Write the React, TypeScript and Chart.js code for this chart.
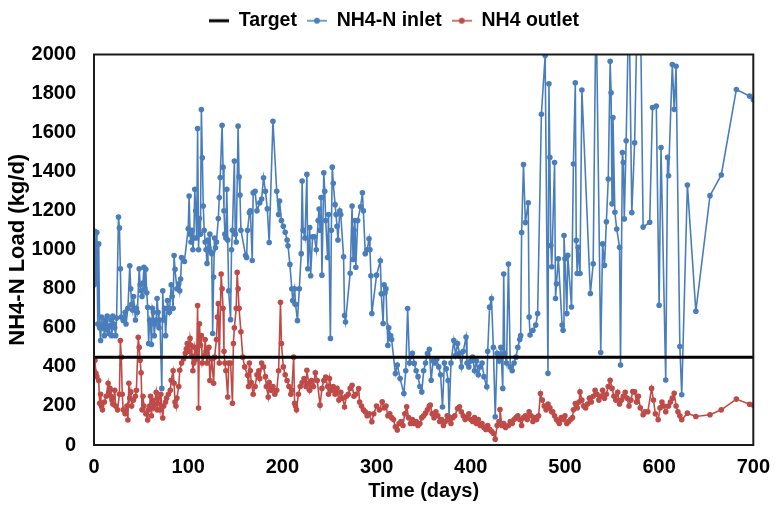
import React, { useEffect, useRef } from "react";
import { Chart, registerables } from "chart.js";

Chart.register(...registerables);

const seriesNames = ["Target", "NH4-N inlet", "NH4 outlet"];
const xTickValues = [0, 100, 200, 300, 400, 500, 600, 700];
const yTickValues = [0, 200, 400, 600, 800, 1000, 1200, 1400, 1600, 1800, 2000];

const targetPoints: [number, number][] = [[0, 450], [700, 450]];

const inletPoints: [number, number][] = [
  [0, 820], [1, 1095], [2, 830], [3, 1088], [4, 620], [5, 1030], [6, 600], [7, 535], [8, 655], [9, 600],
  [10, 620], [11, 560], [12, 640], [13, 590], [14, 660], [15, 600], [16, 570], [17, 610], [18, 640], [19, 560],
  [20, 660], [21, 620], [22, 600], [23, 560], [24, 650], [26, 1168], [27, 1112], [28, 903], [29, 655], [31, 638],
  [33, 680], [34, 620], [36, 700], [38, 918], [39, 800], [40, 720], [41, 690], [42, 760], [44, 640], [45, 700],
  [46, 680], [48, 903], [49, 820], [50, 790], [51, 760], [52, 830], [53, 910], [54, 800], [55, 900], [56, 780],
  [57, 705], [58, 520], [59, 640], [60, 620], [61, 515], [62, 700], [63, 680], [64, 560], [65, 620], [66, 640],
  [67, 750], [68, 680], [69, 600], [70, 640], [72, 290], [73, 790], [74, 640], [75, 700], [76, 560], [78, 740],
  [79, 700], [80, 680], [82, 820], [83, 760], [84, 700], [85, 970], [86, 900], [88, 800], [90, 826], [91, 790],
  [92, 850], [93, 960], [96, 940], [100, 1107], [101, 1275], [102, 1080], [103, 1040], [104, 1100], [105, 1000], [106, 1060],
  [107, 1310], [108, 1200], [109, 1060], [110, 1621], [111, 1000], [112, 1160], [113, 1080], [114, 1718], [115, 1471], [116, 1224],
  [117, 1100], [118, 1040], [119, 1000], [120, 930], [121, 1050], [122, 1010], [123, 1080], [124, 990], [125, 980], [126, 571],
  [127, 860], [128, 1060], [129, 1010], [130, 1040], [132, 1160], [133, 1267], [134, 1370], [136, 1638], [137, 1423], [138, 1200],
  [139, 1080], [140, 1060], [141, 1310], [142, 1050], [143, 790], [145, 642], [146, 1000], [147, 1100], [149, 1454], [150, 1080],
  [151, 1040], [153, 1633], [154, 1373], [155, 1280], [156, 1100], [161, 970], [162, 960], [163, 1100], [165, 1190], [166, 1199],
  [168, 945], [169, 1292], [171, 1300], [173, 1200], [176, 1241], [178, 1260], [180, 1369], [182, 1300], [184, 1210], [186, 1037],
  [190, 1658], [194, 1300], [196, 1180], [197, 1250], [199, 1150], [201, 1120], [203, 1090], [205, 1050], [206, 1020], [208, 925],
  [210, 800], [211, 740], [213, 800], [214, 720], [216, 637], [218, 800], [220, 980], [221, 1352], [222, 1100], [224, 1060],
  [226, 1386], [227, 903], [229, 1114], [230, 867], [232, 1066], [234, 1066], [236, 1000], [238, 1150], [239, 1209], [240, 1100],
  [241, 1267], [242, 870], [244, 1394], [245, 1300], [246, 1150], [248, 960], [249, 1180], [251, 546], [252, 1100], [253, 1423],
  [254, 1340], [256, 1231], [257, 1180], [258, 1120], [259, 1050], [261, 1200], [262, 1180], [265, 964], [266, 663], [267, 630],
  [272, 880], [274, 1224], [275, 950], [276, 1100], [277, 1150], [278, 910], [280, 1150], [283, 1220], [285, 1292], [286, 1200],
  [288, 980], [290, 1000], [292, 1056], [293, 1000], [294, 867], [295, 673], [300, 870], [304, 944], [305, 775], [307, 622],
  [308, 820], [309, 780], [310, 800], [312, 510], [313, 600], [315, 560], [316, 540], [320, 366], [322, 410], [325, 340],
  [329, 264], [331, 380], [333, 699], [335, 420], [338, 470], [340, 418], [342, 380], [344, 350], [346, 300], [348, 272],
  [350, 380], [352, 420], [354, 469], [356, 490], [358, 332], [360, 430], [362, 420], [364, 440], [366, 400], [368, 360],
  [370, 195], [372, 420], [374, 390], [376, 330], [377, 144], [379, 420], [382, 535], [384, 460], [386, 520], [388, 470],
  [390, 400], [392, 480], [395, 553], [396, 420], [398, 400], [400, 430], [402, 450], [404, 380], [406, 430], [408, 360],
  [410, 400], [412, 420], [414, 350], [417, 298], [418, 480], [420, 706], [422, 750], [424, 500], [426, 145], [428, 470],
  [430, 430], [432, 500], [434, 290], [435, 876], [436, 470], [438, 420], [440, 927], [442, 400], [444, 380], [446, 420],
  [448, 450], [450, 500], [452, 540], [453, 560], [454, 1088], [456, 1437], [458, 1139], [461, 1241], [462, 655], [463, 563],
  [466, 588], [469, 614], [471, 673], [475, 1694], [479, 1995], [482, 367], [483, 1850], [484, 1473], [485, 1022], [486, 913],
  [489, 1447], [490, 750], [491, 826], [493, 954], [497, 614], [498, 588], [499, 1073], [500, 954], [502, 673], [503, 971],
  [507, 707], [509, 1439], [511, 1855], [512, 1048], [513, 878], [514, 1013], [516, 878], [518, 1818], [527, 776], [530, 928],
  [533, 2300], [538, 474], [540, 1030], [542, 920], [544, 1143], [546, 1362], [548, 1965], [549, 1804], [550, 1235], [551, 1677],
  [553, 1192], [555, 1106], [558, 1013], [559, 410], [561, 1498], [562, 1447], [563, 1158], [565, 1558], [568, 2300], [571, 1190],
  [574, 1548], [577, 2300], [580, 2300], [583, 1116], [590, 1141], [593, 1728], [597, 1736], [600, 716], [602, 1524], [607, 333],
  [609, 1473], [610, 1379], [614, 1949], [616, 1719], [618, 1940], [622, 504], [624, 257], [630, 1332], [639, 685], [654, 1277],
  [666, 1383], [682, 1821], [696, 1787], [700, 1770],
];

const outletPoints: [number, number][] = [
  [0, 380], [1, 434], [2, 367], [3, 350], [5, 330], [6, 214], [7, 260], [8, 197], [9, 180], [11, 220],
  [13, 250], [15, 316], [16, 272], [17, 290], [18, 250], [19, 230], [20, 210], [22, 280], [23, 200], [25, 180],
  [27, 260], [28, 535], [29, 450], [30, 260], [31, 180], [33, 160], [35, 200], [36, 128], [37, 316], [38, 240],
  [39, 272], [40, 200], [42, 230], [44, 250], [45, 280], [47, 552], [48, 500], [49, 434], [50, 370], [51, 180],
  [52, 250], [53, 200], [55, 160], [57, 128], [58, 180], [59, 200], [60, 250], [61, 150], [62, 230], [63, 190],
  [64, 210], [66, 270], [67, 180], [68, 240], [70, 180], [71, 260], [73, 138], [74, 200], [76, 220], [77, 240],
  [79, 260], [81, 280], [82, 332], [84, 380], [85, 316], [86, 220], [87, 200], [88, 240], [90, 300], [91, 383],
  [93, 420], [95, 440], [97, 470], [98, 493], [99, 520], [101, 480], [102, 546], [103, 510], [104, 456], [105, 380],
  [106, 420], [107, 500], [109, 440], [110, 714], [111, 189], [112, 621], [113, 510], [114, 560], [115, 420], [117, 460],
  [118, 540], [119, 480], [120, 420], [122, 500], [123, 330], [125, 440], [127, 316], [128, 450], [130, 540], [131, 655],
  [132, 724], [133, 420], [135, 876], [136, 800], [137, 700], [138, 480], [139, 420], [140, 380], [142, 246], [143, 420],
  [145, 420], [147, 214], [148, 520], [149, 600], [151, 700], [152, 884], [153, 800], [154, 700], [156, 580], [158, 450],
  [160, 400], [163, 357], [164, 300], [165, 420], [166, 380], [167, 320], [169, 260], [171, 300], [173, 360], [175, 380],
  [176, 340], [178, 420], [180, 400], [182, 350], [183, 300], [185, 246], [186, 320], [188, 280], [190, 300], [192, 260],
  [194, 280], [196, 380], [198, 731], [199, 520], [201, 400], [203, 360], [205, 330], [207, 300], [209, 260], [210, 280],
  [212, 450], [213, 214], [214, 200], [215, 180], [217, 260], [219, 300], [221, 320], [223, 340], [225, 300], [226, 383],
  [228, 315], [229, 280], [231, 330], [233, 300], [235, 370], [237, 330], [240, 204], [242, 290], [244, 330], [246, 348],
  [248, 300], [249, 260], [250, 340], [252, 280], [254, 300], [256, 260], [258, 290], [260, 230], [262, 270], [264, 240],
  [266, 195], [268, 250], [270, 260], [272, 290], [274, 306], [276, 250], [278, 260], [281, 289], [282, 220], [284, 200],
  [286, 180], [288, 170], [290, 150], [292, 160], [295, 119], [297, 160], [300, 200], [303, 180], [306, 221], [308, 190],
  [310, 200], [312, 150], [314, 160], [316, 140], [318, 130], [320, 93], [322, 77], [324, 110], [326, 120], [328, 100],
  [330, 160], [332, 196], [334, 140], [336, 110], [338, 130], [340, 110], [342, 120], [344, 100], [346, 110], [348, 140],
  [350, 150], [352, 163], [354, 180], [356, 199], [357, 204], [359, 160], [361, 140], [363, 170], [365, 150], [367, 120],
  [369, 130], [371, 100], [373, 120], [375, 150], [377, 130], [379, 110], [381, 140], [383, 150], [386, 187], [388, 196],
  [390, 170], [392, 150], [394, 130], [396, 140], [398, 160], [400, 130], [402, 120], [404, 140], [406, 110], [408, 130],
  [410, 100], [412, 110], [414, 90], [416, 80], [418, 100], [420, 80], [422, 70], [424, 60], [426, 30], [428, 100],
  [430, 120], [431, 182], [433, 100], [435, 110], [437, 90], [440, 100], [442, 120], [444, 110], [446, 130], [448, 140],
  [450, 150], [452, 130], [454, 100], [456, 140], [458, 150], [460, 130], [462, 170], [464, 150], [466, 120], [468, 140],
  [470, 130], [472, 150], [474, 264], [476, 230], [478, 200], [480, 180], [482, 210], [484, 190], [486, 170], [487, 170],
  [489, 150], [491, 130], [493, 120], [494, 110], [496, 140], [498, 130], [500, 150], [502, 110], [504, 120], [506, 130],
  [508, 140], [509, 180], [511, 212], [513, 190], [515, 220], [516, 272], [518, 230], [520, 200], [522, 190], [524, 210],
  [526, 240], [528, 220], [530, 250], [532, 280], [534, 260], [536, 230], [538, 250], [540, 280], [542, 240], [544, 260],
  [546, 300], [548, 332], [550, 290], [552, 250], [554, 230], [556, 270], [558, 210], [560, 230], [562, 250], [564, 270],
  [566, 240], [568, 200], [570, 230], [572, 274], [574, 272], [576, 220], [578, 250], [580, 190], [583, 155], [585, 170],
  [588, 170], [592, 290], [594, 230], [596, 160], [599, 129], [601, 190], [603, 220], [605, 200], [607, 170], [610, 200],
  [612, 220], [614, 240], [616, 265], [618, 200], [620, 170], [622, 150], [624, 129], [630, 163], [639, 146], [654, 155],
  [666, 180], [682, 235], [696, 209], [700, 205],
];

const BLUE = "#4A7EBB";
const RED = "#BE4B48";
const FONT = "'Liberation Sans', Arial, sans-serif";

function legendMarker(color: string, withDot: boolean, lw: number): HTMLCanvasElement {
  const c = document.createElement("canvas");
  c.width = 20;
  c.height = 10;
  const g = c.getContext("2d")!;
  g.strokeStyle = color;
  g.lineWidth = lw;
  g.beginPath();
  g.moveTo(0, 5);
  g.lineTo(20, 5);
  g.stroke();
  if (withDot) {
    g.fillStyle = color;
    g.beginPath();
    g.arc(10, 5, 3, 0, Math.PI * 2);
    g.fill();
  }
  return c;
}

const boxPlugin = {
  id: "plotBox",
  afterDatasetsDraw(chart: any) {
    const { ctx, chartArea } = chart;
    const { left, top, right, bottom } = chartArea;
    ctx.save();
    ctx.strokeStyle = "#1a1a1a";
    ctx.lineWidth = 2;
    ctx.strokeRect(left, top, right - left, bottom - top);
    ctx.restore();
  },
};

export default function App() {
  const ref = useRef<HTMLCanvasElement | null>(null);
  useEffect(() => {
    if (!ref.current) return;
    const markers = [
      legendMarker("#000", false, 3),
      legendMarker(BLUE, true, 1.5),
      legendMarker(RED, true, 1.5),
    ];
    const toXY = (pts: [number, number][]) => pts.map(([x, y]) => ({ x, y }));
    const chart = new Chart(ref.current, {
      type: "line",
      data: {
        datasets: [
          {
            label: seriesNames[0],
            data: toXY(targetPoints),
            borderColor: "#000",
            backgroundColor: "#000",
            borderWidth: 3,
            pointRadius: 0,
            order: 0,
          },
          {
            label: seriesNames[1],
            data: toXY(inletPoints),
            borderColor: BLUE,
            backgroundColor: BLUE,
            borderWidth: 1.6,
            pointRadius: 2.8,
            pointBorderWidth: 0,
            order: 2,
          },
          {
            label: seriesNames[2],
            data: toXY(outletPoints),
            borderColor: RED,
            backgroundColor: RED,
            borderWidth: 1.6,
            pointRadius: 2.8,
            pointBorderWidth: 0,
            order: 1,
          },
        ],
      },
      options: {
        animation: false,
        responsive: false,
        devicePixelRatio: 1,
        layout: { padding: { left: 24, right: 16, top: 1, bottom: 0 } },
        plugins: {
          tooltip: { enabled: false },
          legend: {
            position: "top",
            labels: {
              usePointStyle: true,
              pointStyleWidth: 20,
              padding: 10,
              color: "#000",
              font: { family: FONT, size: 19.5, weight: "bold" },
              generateLabels: (chart: any) =>
                chart.data.datasets.map((ds: any, i: number) => ({
                  text: ds.label,
                  fillStyle: ds.borderColor,
                  strokeStyle: ds.borderColor,
                  lineWidth: 0,
                  pointStyle: markers[i],
                  hidden: false,
                  datasetIndex: i,
                  fontColor: "#000",
                })),
            },
          },
        },
        scales: {
          x: {
            type: "linear",
            min: 0,
            max: 700,
            grid: { display: false, drawTicks: false },
            border: { display: false },
            ticks: {
              stepSize: 100,
              color: "#000",
              padding: 10,
              font: { family: FONT, size: 20, weight: "bold" },
              callback: (v: any) => (xTickValues.includes(Number(v)) ? String(v) : ""),
            },
            title: {
              display: true,
              text: "Time (days)",
              color: "#000",
              font: { family: FONT, size: 20, weight: "bold" },
              padding: { top: 0, bottom: 2 },
            },
            afterFit: (s: any) => {
              s.height = 60;
            },
          },
          spacer: {
            type: "linear",
            position: "top",
            display: true,
            grid: { display: false, drawTicks: false },
            border: { display: false },
            ticks: { display: false },
            afterFit: (s: any) => {
              s.height = 14;
            },
          },
          y: {
            type: "linear",
            min: 0,
            max: 2000,
            grid: { display: false, drawTicks: false },
            border: { display: false },
            ticks: {
              stepSize: 200,
              color: "#000",
              padding: 18,
              font: { family: FONT, size: 20, weight: "bold" },
              callback: (v: any) => (yTickValues.includes(Number(v)) ? String(v) : ""),
            },
            title: {
              display: true,
              text: "NH4-N Load (kg/d)",
              color: "#000",
              font: { family: FONT, size: 22, weight: "bold" },
              padding: { top: -19, bottom: 0 },
            },
            afterFit: (s: any) => {
              s.width = 70;
            },
          },
        },
      },
      plugins: [boxPlugin],
    });
    return () => chart.destroy();
  }, []);
  return (
    <div style={{ position: "absolute", left: 0, top: 0, width: 780, height: 505, background: "#fff" }}>
      <canvas ref={ref} width={780} height={505} style={{ width: 780, height: 505 }} />
    </div>
  );
}
